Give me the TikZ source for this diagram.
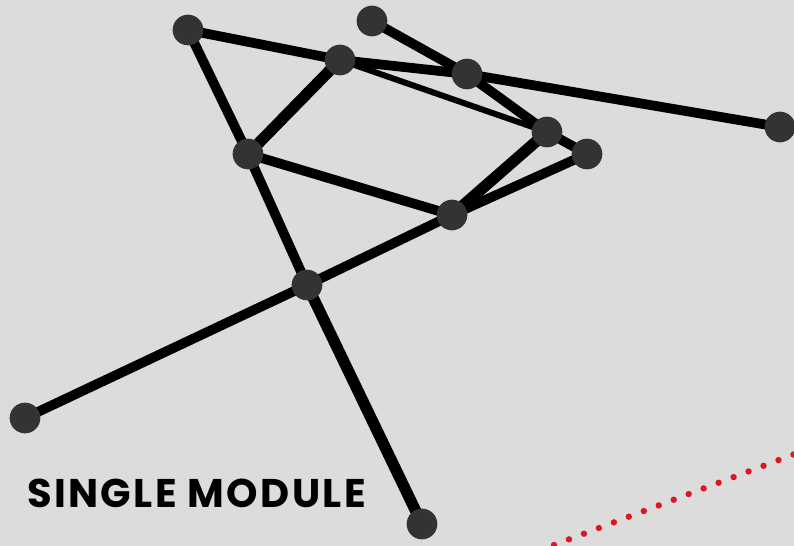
\documentclass[tikz,border=0pt]{standalone}
\usepackage{fontspec}
\setmainfont{Poppins}
\newfontfamily\titlefont[LetterSpace=6]{Poppins}
\definecolor{bg}{RGB}{220,220,220}
\definecolor{nodegray}{RGB}{51,51,51}
\definecolor{dotred}{RGB}{222,22,34}
\begin{document}
\begin{tikzpicture}[x=0.75pt,y=-0.75pt,
  vtx/.style={circle,fill=nodegray,inner sep=0pt,minimum size=23pt},
  thick edge/.style={line width=8.5pt},
  mid edge/.style={line width=7.3pt},
  thin edge/.style={line width=4.5pt},
  label text/.style={font=\titlefont\bfseries\fontsize{30}{30}\selectfont,text=black,inner sep=0pt}]
\fill[bg] (0,0) rectangle (794,546);
\useasboundingbox (0,0) rectangle (794,546);
% red dotted line
\coordinate (r1) at (554,545);
\coordinate (r2) at (800,452);
\draw[dotred,line width=4.8pt,line cap=round,dash pattern=on 0pt off 12pt] (r1) -- (r2);
% nodes positions
\coordinate (A) at (188,30);
\coordinate (B) at (372,21);
\coordinate (C) at (340,60);
\coordinate (D) at (467,74);
\coordinate (E) at (780,127);
\coordinate (F) at (547,132);
\coordinate (G) at (587,154);
\coordinate (H) at (248,154);
\coordinate (I) at (452,215);
\coordinate (J) at (307,285);
\coordinate (K) at (25,418);
\coordinate (L) at (422,524);
% edges
\draw[mid edge] (A) -- (C);
\draw[mid edge] (C) -- (D);
\draw[mid edge] (D) -- (E);
\draw[mid edge] (B) -- (D);
\draw[mid edge] (D) -- (F);
\draw[mid edge] (F) -- (G);
\draw[thin edge] (C) -- (F);
\draw[thick edge] (C) -- (H);
\draw[mid edge] (A) -- (H);
\draw[mid edge] (H) -- (J);
\draw[thick edge] (J) -- (L);
\draw[mid edge] (H) -- (I);
\draw[thick edge] (I) -- (F);
\draw[mid edge] (I) -- (G);
\draw[mid edge] (K) -- (J);
\draw[mid edge] (J) -- (I);
% vertices
\foreach \n in {A,B,C,D,E,F,G,H,I,J,K,L}
  \node[vtx] (v\n) at (\n) {};
% label
\node[label text,anchor=west] (title) at (27,493) {SINGLE MODULE};
\end{tikzpicture}
\end{document}
